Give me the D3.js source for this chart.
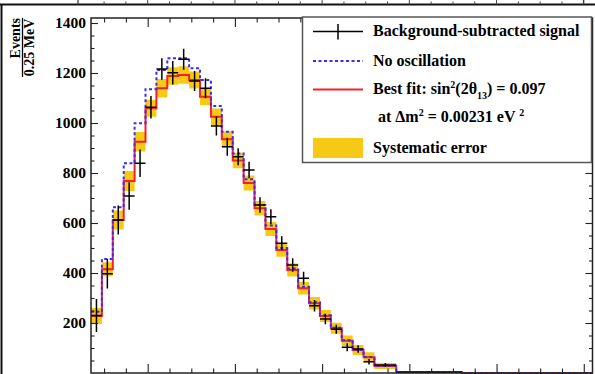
<!DOCTYPE html>
<html>
<head>
<meta charset="utf-8">
<script src="https://cdn.jsdelivr.net/npm/d3@7"></script>
<style>
  body { margin: 0; background: #fff; }
  svg { display: block; }
  text { font-family: "Liberation Serif", "Times New Roman", serif; font-weight: bold; fill: #000; }
</style>
</head>
<body>
<div id="chart"></div>
<script>
// 595 x 374, like the reference crop
let width = 595;
let height = 374;

// bin edges in MeV (0.25 MeV bins, then two wide ones)
let binEdges = [0.7, 0.95, 1.2, 1.45, 1.7, 1.95, 2.2, 2.45, 2.7, 2.95, 3.2, 3.45, 3.7, 3.95,
    4.2, 4.45, 4.7, 4.95, 5.2, 5.45, 5.7, 5.95, 6.2, 6.45, 6.7, 6.95, 7.2, 7.7, 9.2, 12.2];

// events / 0.25 MeV
let signal    = [230, 397, 612, 708, 839, 1063, 1216, 1201, 1255, 1168, 1139, 988, 905, 865, 812,
    672, 625, 519, 432, 379, 269, 216, 175, 103, 96, 45, 32, 3, null];
let signalErr = [66, 59, 58, 55, 55, 45, 43, 47, 42, 40, 40, 38, 36, 34, 33,
    31, 30, 28, 27, 26, 23, 21, 18, 16, 15, 11, 8, 3, null];
let noOsc     = [245, 456, 663, 839, 999, 1135, 1212, 1259, 1259, 1219, 1172, 1068, 965, 878, 775,
    672, 590, 500, 418, 345, 283, 231, 181, 131, 93, 64, 28, 4, 0];
let bestFit   = [228, 415, 612, 768, 925, 1059, 1139, 1188, 1192, 1172, 1105, 1025, 935, 850, 760,
    659, 576, 492, 412, 339, 279, 228, 179, 129, 92, 63, 28, 4, 0];
let sysErr    = [32, 28, 38, 40, 39, 34, 37, 35, 35, 34, 34, 33, 32, 31, 30,
    29, 28, 27, 26, 25, 25, 24, 22, 21, 20, 20, 12, 3, 0];

let yMajor = [200, 400, 600, 800, 1000, 1200, 1400];
let yMinor = d3.range(50, 1420, 50).filter(v => v % 200 != 0);
let xMajor = [2, 4, 6, 8, 10, 12];
let xMinor = d3.range(1, 12.01, 0.5).filter(v => v % 2 != 0);

let frame = {left: 91, right: 592.5, top: 18, bottom: 373};

let x = d3.scaleLinear().domain([0.7, 12.2]).range([frame.left, frame.right]);
let y = d3.scaleLinear().domain([0, 1420]).range([frame.bottom, frame.top]);

let svg = d3.select('#chart').append('svg')
    .attr('width', width).attr('height', height)
    .attr('viewBox', `0 0 ${width} ${height}`);

// bits of the panel above and the outer border
let upper = svg.append('g');
upper.append('line').attr('x1', 0).attr('x2', width).attr('y1', 4.5).attr('y2', 4.5)
    .attr('stroke', '#111').attr('stroke-width', 2);
upper.append('line').attr('x1', 1.5).attr('x2', 1.5).attr('y1', 4.5).attr('y2', height)
    .attr('stroke', '#111').attr('stroke-width', 2);
for (let xv of [78, 583.5]) {
    upper.append('line').attr('x1', xv).attr('x2', xv).attr('y1', 0).attr('y2', 4.5)
        .attr('stroke', '#333').attr('stroke-width', 1.2);
}
upper.selectAll('.tup').data(xMinor.concat(xMajor)).enter().append('line')
    .attr('x1', d => x(d)).attr('x2', d => x(d))
    .attr('y1', 4.5).attr('y2', d => d % 2 == 0 ? 0 : 1.5)
    .attr('stroke', '#444').attr('stroke-width', 1);

let nBins = binEdges.length - 1;
let bins = d3.range(nBins).map(i => ({
    x0: binEdges[i], x1: binEdges[i + 1],
    sig: signal[i], err: signalErr[i], no: noOsc[i], fit: bestFit[i], sys: sysErr[i]
}));

// systematic error boxes
svg.append('g').selectAll('rect').data(bins.filter(b => b.sys > 0)).enter().append('rect')
    .attr('x', b => x(b.x0)).attr('width', b => x(b.x1) - x(b.x0))
    .attr('y', b => y(b.fit + b.sys)).attr('height', b => y(b.fit - b.sys) - y(b.fit + b.sys))
    .attr('fill', '#f6c915');

function stepPoints(vals) {
    let pts = bins.map((b, i) => [b.x0, vals[i]]);
    pts.push([binEdges[nBins], vals[nBins - 1]]);
    return pts;
}
let step = d3.line().x(d => x(d[0])).y(d => y(d[1])).curve(d3.curveStepAfter);

svg.append('path').attr('d', step(stepPoints(bestFit)))
    .attr('fill', 'none').attr('stroke', '#f2212b').attr('stroke-width', 2);
svg.append('path').attr('d', step(stepPoints(noOsc)))
    .attr('fill', 'none').attr('stroke', '#3a2cf5').attr('stroke-width', 2)
    .attr('stroke-dasharray', '3,2.5');

// data crosses
let cross = svg.append('g').attr('stroke', '#000').attr('stroke-width', 1.5);
for (let b of bins.filter(b => b.sig != null)) {
    let cx = x((b.x0 + b.x1) / 2);
    cross.append('line').attr('x1', x(b.x0)).attr('x2', x(b.x1)).attr('y1', y(b.sig)).attr('y2', y(b.sig));
    cross.append('line').attr('x1', cx).attr('x2', cx).attr('y1', y(b.sig + b.err)).attr('y2', y(b.sig - b.err));
}

// axes: ticks on all four sides, pointing in
function addAxis(axis, tx, ty) {
    let g = svg.append('g').attr('transform', `translate(${tx},${ty})`).call(axis);
    g.select('.domain').remove();
    g.selectAll('line').attr('stroke', '#222').attr('stroke-width', 1.1);
    return g;
}
let yLab = addAxis(d3.axisLeft(y).tickValues(yMajor).tickSize(-7).tickPadding(5).tickFormat(d3.format('d')),
    frame.left, 0);
yLab.attr('font-family', '"Liberation Serif", serif').attr('font-size', 15.5);
yLab.selectAll('text').attr('font-weight', 'bold').attr('fill', '#000');
addAxis(d3.axisLeft(y).tickValues(yMinor).tickSize(-3.5).tickFormat(''), frame.left, 0);
addAxis(d3.axisRight(y).tickValues(yMajor).tickSize(-7).tickFormat(''), frame.right, 0);
addAxis(d3.axisRight(y).tickValues(yMinor).tickSize(-3.5).tickFormat(''), frame.right, 0);
addAxis(d3.axisBottom(x).tickValues(xMajor).tickSize(-9).tickFormat(''), 0, frame.bottom);
addAxis(d3.axisBottom(x).tickValues(xMinor).tickSize(-4.5).tickFormat(''), 0, frame.bottom);
addAxis(d3.axisTop(x).tickValues(xMajor).tickSize(-9).tickFormat(''), 0, frame.top);
addAxis(d3.axisTop(x).tickValues(xMinor).tickSize(-4.5).tickFormat(''), 0, frame.top);

svg.append('rect')
    .attr('x', frame.left).attr('y', frame.top)
    .attr('width', frame.right - frame.left).attr('height', frame.bottom - frame.top)
    .attr('fill', 'none').attr('stroke', '#222').attr('stroke-width', 1.5);

// y title as a fraction, rotated
let yt = svg.append('g').attr('transform', 'translate(22.5,47.5) rotate(-90)');
yt.append('line').attr('x1', -29.5).attr('x2', 29.5).attr('y1', 0).attr('y2', 0)
    .attr('stroke', '#000').attr('stroke-width', 1.3);
yt.append('text').attr('x', 29.5).attr('y', -3).attr('text-anchor', 'end')
    .attr('font-size', 14).text('Events');
yt.append('text').attr('x', 0).attr('y', 11.5).attr('text-anchor', 'middle')
    .attr('font-size', 14).text('0.25 MeV');

// legend
let leg = svg.append('g');
leg.append('rect').attr('x', 302.5).attr('y', 17).attr('width', 289).attr('height', 145.5)
    .attr('fill', '#fff').attr('stroke', '#555').attr('stroke-width', 1.5);

let lx0 = 313, lx1 = 363, tx = 373;
leg.append('line').attr('x1', lx0).attr('x2', lx1).attr('y1', 31.5).attr('y2', 31.5)
    .attr('stroke', '#000').attr('stroke-width', 1.5);
leg.append('line').attr('x1', 338).attr('x2', 338).attr('y1', 24).attr('y2', 39.5)
    .attr('stroke', '#000').attr('stroke-width', 1.5);
leg.append('text').attr('x', tx).attr('y', 36).attr('font-size', 16).text('Background-subtracted signal');

leg.append('line').attr('x1', lx0).attr('x2', lx1).attr('y1', 61).attr('y2', 61)
    .attr('stroke', '#3a2cf5').attr('stroke-width', 2).attr('stroke-dasharray', '3,2.5');
leg.append('text').attr('x', tx).attr('y', 65.5).attr('font-size', 16).text('No oscillation');

leg.append('line').attr('x1', lx0).attr('x2', lx1).attr('y1', 89.5).attr('y2', 89.5)
    .attr('stroke', '#f2212b').attr('stroke-width', 2);
let t3 = leg.append('text').attr('x', tx).attr('y', 93.5).attr('font-size', 16);
t3.append('tspan').text('Best fit: sin');
t3.append('tspan').attr('font-size', 10).attr('dy', -6).text('2');
t3.append('tspan').attr('dy', 6).text('(2θ');
t3.append('tspan').attr('font-size', 10).attr('dy', 5).text('13');
t3.append('tspan').attr('dy', -5).text(') = 0.097');

let t4 = leg.append('text').attr('x', 378).attr('y', 122).attr('font-size', 16);
t4.append('tspan').text('at Δm');
t4.append('tspan').attr('font-size', 10).attr('dy', -6).text('2');
t4.append('tspan').attr('dy', 6).text(' = 0.00231 eV ');
t4.append('tspan').attr('font-size', 10).attr('dy', -6).text('2');

leg.append('rect').attr('x', lx0).attr('y', 138).attr('width', lx1 - lx0).attr('height', 20)
    .attr('fill', '#f6c915');
leg.append('text').attr('x', tx).attr('y', 152.5).attr('font-size', 16).text('Systematic error');
</script>
</body>
</html>
